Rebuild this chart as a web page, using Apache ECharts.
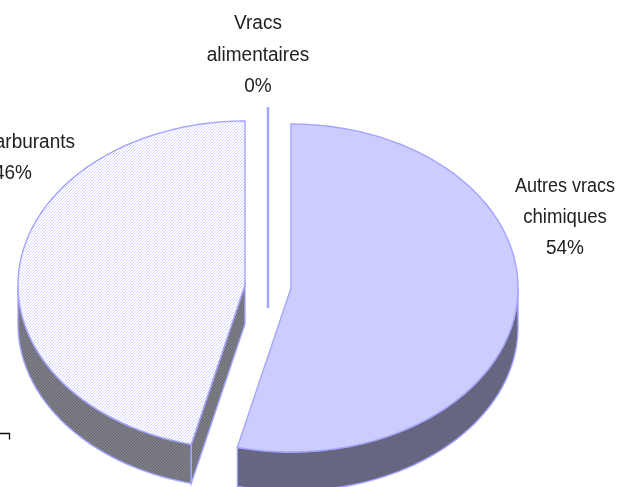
<!DOCTYPE html>
<html><head><meta charset="utf-8">
<style>html,body{margin:0;padding:0;background:#fff}#c{width:635px;height:487px}</style>
<script src="https://cdn.jsdelivr.net/npm/echarts@6/dist/echarts.min.js"></script>
</head><body><div id="c"></div>
<script>
var categories = ['Autres vracs chimiques', 'Carburants', 'Vracs alimentaires'];
var shares = [53.8, 46.2, 0];
var shareLabels = ['54%', '46%', '0%'];
var changes = ['- 41%', '+229%', ''];

function hatch(bg, fg) {
  var s = 3, c = document.createElement('canvas');
  c.width = s; c.height = s;
  var g = c.getContext('2d');
  g.fillStyle = bg; g.fillRect(0, 0, s, s);
  g.fillStyle = fg;
  for (var x = 0; x < s; x++) for (var y = 0; y < s; y++)
    if ((x + y) % s === s - 1) g.fillRect(x, y, 1, 1);
  return { image: c, repeat: 'repeat' };
}
var EDGE = '#a4a4ff', RX = 227, RY = 164, DEPTH = 39, TXT = '#222';
var centers = [[291, 288], [245, 285], [268, 271]];
var looks = [
  { top: '#ccccff', side: '#666680' },
  { top: hatch('#ffffff', '#d4d4ff'), side: hatch('#808080', '#666680') },
  { top: EDGE, side: EDGE }
];
var total = shares.reduce(function (a, b) { return a + b; }, 0);

function pt(c, deg, dy) {
  var r = deg * Math.PI / 180;
  return [c[0] + RX * Math.sin(r), c[1] - RY * Math.cos(r) + (dy || 0)];
}
function arc(c, a0, a1, dy) {
  var out = [], n = Math.max(2, Math.ceil(Math.abs(a1 - a0)));
  for (var i = 0; i <= n; i++) out.push(pt(c, a0 + (a1 - a0) * i / n, dy));
  return out;
}
function poly(points, fill) {
  return { type: 'polygon', shape: { points: points },
    style: { fill: fill, stroke: EDGE, lineWidth: 1.4 } };
}
function renderItem(params, api) {
  var i = params.dataIndex, c = centers[i], a0 = 0;
  for (var k = 0; k < i; k++) a0 += shares[k] / total * 360;
  var a1 = a0 + api.value(0) / total * 360, kids = [];
  if (a1 - a0 < 0.01) {
    var t = pt(c, 0);
    kids.push({ type: 'line', shape: { x1: t[0], y1: t[1], x2: c[0], y2: c[1] + DEPTH - 2 },
      style: { stroke: EDGE, lineWidth: 2.5 } });
    return { type: 'group', children: kids };
  }
  // outer wall, only the part of the rim facing the viewer
  var s0 = Math.max(a0, 90), s1 = Math.min(a1, 270);
  if (s1 > s0) {
    var topRim = arc(c, s0, s1, 0), lowRim = arc(c, s1, s0, DEPTH);
    kids.push(poly(topRim.concat(lowRim), looks[i].side));
  }
  // cut wall, visible where the opening radius faces the viewer
  if (a0 > 90 && a0 < 270) {
    var e = pt(c, a0);
    kids.push(poly([[c[0], c[1]], e, [e[0], e[1] + DEPTH], [c[0], c[1] + DEPTH]], looks[i].side));
  }
  kids.push(poly([[c[0], c[1]]].concat(arc(c, a0, a1, 0)), looks[i].top));
  return { type: 'group', children: kids };
}
function txt(x, y, s, opt) {
  opt = opt || {};
  return { type: 'text', x: x, y: y, scaleX: opt.sx || 0.95, silent: true, style: {
    text: s, fill: TXT, font: (opt.bold ? 'bold ' : '') + (opt.size || 20) + 'px "Liberation Sans", Arial, sans-serif',
    textAlign: opt.align || 'center', textVerticalAlign: 'middle' } };
}
var labels = [
  txt(565, 186, 'Autres vracs', { sx: 0.9 }), txt(565, 217, 'chimiques', { sx: 0.93 }), txt(565, 248, shareLabels[0]),
  txt(75, 142, categories[1], { align: 'right' }), txt(32, 173, shareLabels[1], { align: 'right' }),
  txt(258, 23, 'Vracs'), txt(258, 55, 'alimentaires'), txt(258, 86, shareLabels[2]),
  txt(412, 333, changes[0], { bold: true, size: 18, sx: 1 }), txt(175, 190, changes[1], { bold: true, size: 18, sx: 1 }),
  { type: 'polyline', shape: { points: [[0, 433.5], [9.5, 433.5], [9.5, 439.5]] },
    style: { stroke: '#111', fill: null, lineWidth: 1.3 } }
];
var chart = echarts.init(document.getElementById('c'), null, { renderer: 'canvas' });
chart.setOption({
  animation: false,
  graphic: { elements: labels },
  series: [{
    type: 'custom', coordinateSystem: 'none', renderItem: renderItem, clip: false,
    silent: true, data: shares.map(function (v) { return [v]; })
  }]
});
</script></body></html>
